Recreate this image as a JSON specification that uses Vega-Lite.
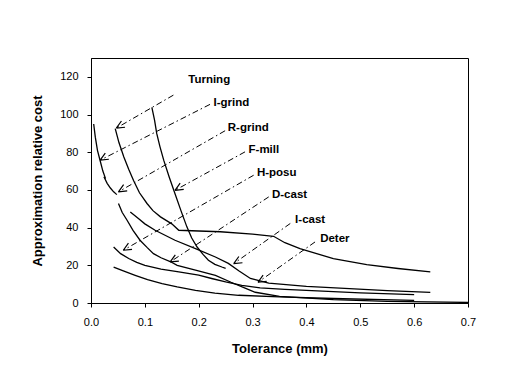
{
  "$schema": "https://vega.github.io/schema/vega-lite/v6.json",
  "autosize": "none",
  "width": 377,
  "height": 245,
  "padding": {"left": 91, "top": 58, "right": 39, "bottom": 65},
  "background": "white",
  "config": {
    "font": "Liberation Sans",
    "view": {"stroke": "black", "strokeWidth": 1},
    "axis": {"grid": false, "domainColor": "black", "tickColor": "black", "labelColor": "black", "titleColor": "black", "labelFontSize": 11, "titleFontSize": 13, "titleFontWeight": "bold", "tickSize": 4}
  },
  "datasets": {
    "curves": [
      {"series": "I-grind", "x": 0.005, "y": 95}, {"series": "I-grind", "x": 0.008, "y": 88}, {"series": "I-grind", "x": 0.012, "y": 81}, {"series": "I-grind", "x": 0.017, "y": 75.5}, {"series": "I-grind", "x": 0.022, "y": 70}, {"series": "I-grind", "x": 0.027, "y": 66},
      {"series": "R-grind", "x": 0.024, "y": 67}, {"series": "R-grind", "x": 0.03, "y": 63.5}, {"series": "R-grind", "x": 0.036, "y": 61}, {"series": "R-grind", "x": 0.042, "y": 59}, {"series": "R-grind", "x": 0.048, "y": 57.5},
      {"series": "Turning", "x": 0.045, "y": 92.5}, {"series": "Turning", "x": 0.052, "y": 85}, {"series": "Turning", "x": 0.061, "y": 77.5}, {"series": "Turning", "x": 0.07, "y": 71}, {"series": "Turning", "x": 0.079, "y": 65}, {"series": "Turning", "x": 0.09, "y": 58.5}, {"series": "Turning", "x": 0.104, "y": 52.8}, {"series": "Turning", "x": 0.115, "y": 49}, {"series": "Turning", "x": 0.129, "y": 45.7}, {"series": "Turning", "x": 0.15, "y": 42}, {"series": "Turning", "x": 0.163, "y": 38.6}, {"series": "Turning", "x": 0.2, "y": 38.2}, {"series": "Turning", "x": 0.24, "y": 37.8}, {"series": "Turning", "x": 0.3, "y": 36.5}, {"series": "Turning", "x": 0.339, "y": 35.4}, {"series": "Turning", "x": 0.36, "y": 32}, {"series": "Turning", "x": 0.388, "y": 28.9}, {"series": "Turning", "x": 0.45, "y": 23.6}, {"series": "Turning", "x": 0.512, "y": 20.4}, {"series": "Turning", "x": 0.57, "y": 18.3}, {"series": "Turning", "x": 0.63, "y": 16.5},
      {"series": "F-mill", "x": 0.113, "y": 103.8}, {"series": "F-mill", "x": 0.118, "y": 97}, {"series": "F-mill", "x": 0.122, "y": 90}, {"series": "F-mill", "x": 0.128, "y": 83}, {"series": "F-mill", "x": 0.135, "y": 75.8}, {"series": "F-mill", "x": 0.145, "y": 67}, {"series": "F-mill", "x": 0.156, "y": 58}, {"series": "F-mill", "x": 0.167, "y": 49}, {"series": "F-mill", "x": 0.178, "y": 40.4}, {"series": "F-mill", "x": 0.187, "y": 34.5}, {"series": "F-mill", "x": 0.197, "y": 29.7}, {"series": "F-mill", "x": 0.208, "y": 25.8}, {"series": "F-mill", "x": 0.218, "y": 22.7}, {"series": "F-mill", "x": 0.23, "y": 20.5}, {"series": "F-mill", "x": 0.243, "y": 19.1}, {"series": "F-mill", "x": 0.25, "y": 18.4},
      {"series": "H-posu", "x": 0.042, "y": 29.7}, {"series": "H-posu", "x": 0.055, "y": 26.2}, {"series": "H-posu", "x": 0.07, "y": 23.6}, {"series": "H-posu", "x": 0.085, "y": 21.6}, {"series": "H-posu", "x": 0.1, "y": 20}, {"series": "H-posu", "x": 0.13, "y": 18}, {"series": "H-posu", "x": 0.163, "y": 16.5}, {"series": "H-posu", "x": 0.2, "y": 14.8}, {"series": "H-posu", "x": 0.224, "y": 13}, {"series": "H-posu", "x": 0.25, "y": 11.2}, {"series": "H-posu", "x": 0.28, "y": 9.4}, {"series": "H-posu", "x": 0.314, "y": 8}, {"series": "H-posu", "x": 0.36, "y": 7.2}, {"series": "H-posu", "x": 0.42, "y": 6.4}, {"series": "H-posu", "x": 0.5, "y": 5.4}, {"series": "H-posu", "x": 0.6, "y": 4.4},
      {"series": "D-cast", "x": 0.051, "y": 52.8}, {"series": "D-cast", "x": 0.058, "y": 48}, {"series": "D-cast", "x": 0.067, "y": 43.9}, {"series": "D-cast", "x": 0.078, "y": 38.5}, {"series": "D-cast", "x": 0.091, "y": 33.3}, {"series": "D-cast", "x": 0.104, "y": 29.5}, {"series": "D-cast", "x": 0.116, "y": 26.2}, {"series": "D-cast", "x": 0.13, "y": 24}, {"series": "D-cast", "x": 0.147, "y": 22}, {"series": "D-cast", "x": 0.16, "y": 20}, {"series": "D-cast", "x": 0.194, "y": 17.4}, {"series": "D-cast", "x": 0.231, "y": 14.7}, {"series": "D-cast", "x": 0.26, "y": 11}, {"series": "D-cast", "x": 0.285, "y": 8}, {"series": "D-cast", "x": 0.305, "y": 5.7}, {"series": "D-cast", "x": 0.35, "y": 3.5}, {"series": "D-cast", "x": 0.45, "y": 1.8}, {"series": "D-cast", "x": 0.55, "y": 0.9}, {"series": "D-cast", "x": 0.7, "y": 0.3},
      {"series": "I-cast", "x": 0.073, "y": 48.3}, {"series": "I-cast", "x": 0.088, "y": 44.8}, {"series": "I-cast", "x": 0.1, "y": 42}, {"series": "I-cast", "x": 0.119, "y": 38.6}, {"series": "I-cast", "x": 0.156, "y": 33.3}, {"series": "I-cast", "x": 0.194, "y": 28.9}, {"series": "I-cast", "x": 0.231, "y": 24.4}, {"series": "I-cast", "x": 0.255, "y": 21}, {"series": "I-cast", "x": 0.275, "y": 17}, {"series": "I-cast", "x": 0.296, "y": 13}, {"series": "I-cast", "x": 0.33, "y": 10.5}, {"series": "I-cast", "x": 0.4, "y": 8.8}, {"series": "I-cast", "x": 0.48, "y": 7.6}, {"series": "I-cast", "x": 0.55, "y": 6.6}, {"series": "I-cast", "x": 0.63, "y": 5.6},
      {"series": "Deter", "x": 0.042, "y": 19}, {"series": "Deter", "x": 0.06, "y": 17}, {"series": "Deter", "x": 0.082, "y": 14.7}, {"series": "Deter", "x": 0.105, "y": 12.4}, {"series": "Deter", "x": 0.132, "y": 10.3}, {"series": "Deter", "x": 0.16, "y": 8.5}, {"series": "Deter", "x": 0.194, "y": 6.7}, {"series": "Deter", "x": 0.23, "y": 5.2}, {"series": "Deter", "x": 0.274, "y": 4.1}, {"series": "Deter", "x": 0.35, "y": 3.2}, {"series": "Deter", "x": 0.45, "y": 2.4}, {"series": "Deter", "x": 0.6, "y": 1.4}
    ],
    "labels": [
      {"label": "Turning", "lx": 0.1805, "ly": 118.3, "x1": 0.153, "y1": 110.3, "x2": 0.047, "y2": 92.8},
      {"label": "I-grind", "lx": 0.2275, "ly": 105.9, "x1": 0.221, "y1": 105.4, "x2": 0.017, "y2": 75.8},
      {"label": "R-grind", "lx": 0.254, "ly": 92.6, "x1": 0.249, "y1": 91.4, "x2": 0.051, "y2": 59},
      {"label": "F-mill", "lx": 0.2925, "ly": 81.1, "x1": 0.286, "y1": 80.2, "x2": 0.156, "y2": 59.8},
      {"label": "H-posu", "lx": 0.308, "ly": 69.0, "x1": 0.302, "y1": 67.8, "x2": 0.06, "y2": 28},
      {"label": "D-cast", "lx": 0.336, "ly": 57.2, "x1": 0.33, "y1": 56.3, "x2": 0.147, "y2": 21.8},
      {"label": "I-cast", "lx": 0.379, "ly": 43.9, "x1": 0.37, "y1": 42.2, "x2": 0.265, "y2": 20.9},
      {"label": "Deter", "lx": 0.4255, "ly": 33.7, "x1": 0.416, "y1": 32.4, "x2": 0.31, "y2": 11}
    ]
  },
  "layer": [
    {
      "data": {"name": "curves"},
      "mark": {"type": "line", "color": "black", "strokeWidth": 1.3, "clip": true},
      "encoding": {
        "x": {"field": "x", "type": "quantitative", "scale": {"domain": [0, 0.7], "nice": false},
          "axis": {"title": "Tolerance (mm)", "values": [0,0.025,0.05,0.075,0.1,0.125,0.15,0.175,0.2,0.225,0.25,0.275,0.3,0.325,0.35,0.375,0.4,0.425,0.45,0.475,0.5,0.525,0.55,0.575,0.6,0.625,0.65,0.675,0.7],
            "labelExpr": "(round(datum.value*1000) % 100 == 0) ? format(datum.value, '.1f') : ''", "labelPadding": 9, "titlePadding": 15, "labelFlush": false}},
        "y": {"field": "y", "type": "quantitative", "scale": {"domain": [0, 130], "nice": false},
          "axis": {"title": "Approximation relative cost", "values": [0,10,20,30,40,50,60,70,80,90,100,110,120],
            "labelExpr": "(datum.value % 20 == 0) ? datum.value : ''", "labelPadding": 9, "titlePadding": 15}},
        "detail": {"field": "series", "type": "nominal"}
      }
    },
    {
      "data": {"name": "labels"},
      "mark": {"type": "rule", "color": "black", "strokeWidth": 1, "strokeDash": [6, 3, 1.5, 3]},
      "encoding": {
        "x": {"field": "x1", "type": "quantitative"},
        "y": {"field": "y1", "type": "quantitative"},
        "x2": {"field": "x2"},
        "y2": {"field": "y2"}
      }
    },
    {
      "data": {"name": "labels"},
      "mark": {"type": "point", "shape": "M0,0L1,-0.45M0,0L1,0.45", "filled": false, "color": "black", "strokeWidth": 1.2, "size": 256, "angle": 330, "opacity": 1},
      "encoding": {
        "x": {"field": "x2", "type": "quantitative"},
        "y": {"field": "y2", "type": "quantitative"}
      }
    },
    {
      "data": {"name": "labels"},
      "mark": {"type": "text", "align": "left", "baseline": "middle", "fontSize": 11.5, "fontWeight": "bold", "color": "black"},
      "encoding": {
        "x": {"field": "lx", "type": "quantitative"},
        "y": {"field": "ly", "type": "quantitative"},
        "text": {"field": "label", "type": "nominal"}
      }
    }
  ]
}
